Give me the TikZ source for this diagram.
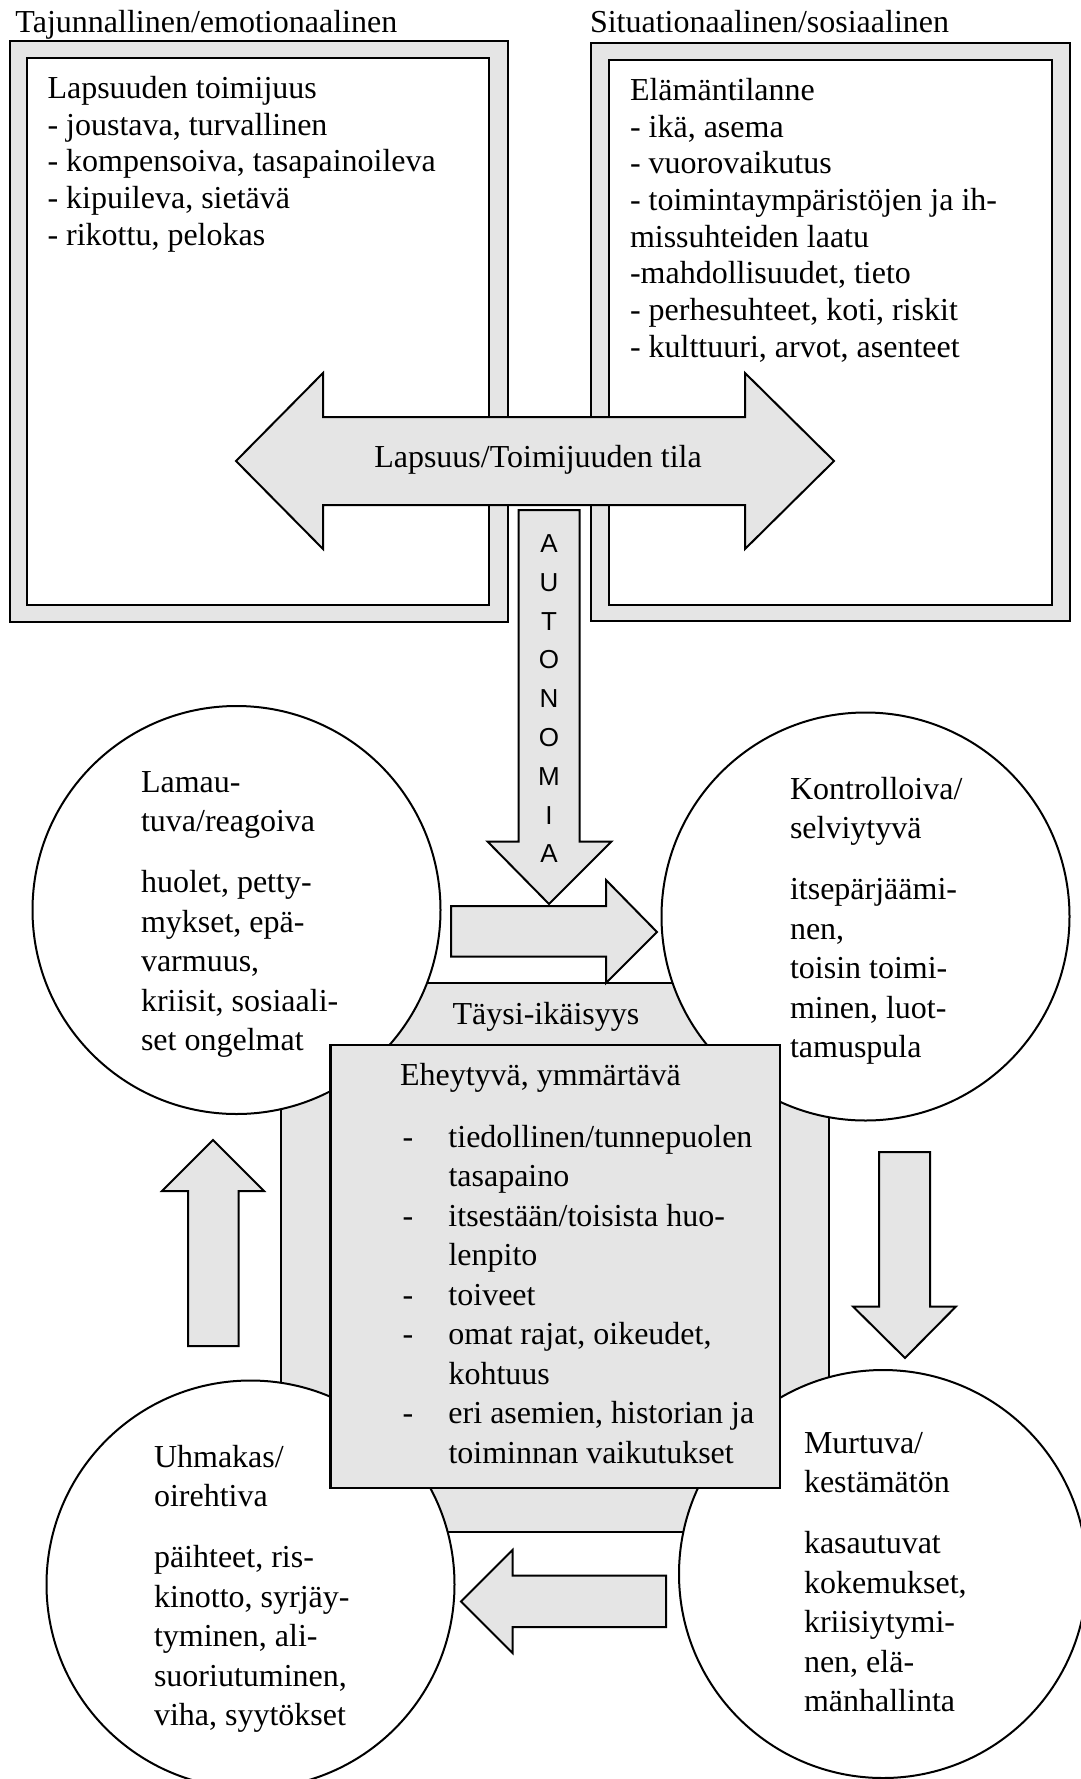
\documentclass[tikz,border=0pt]{standalone}
\usepackage{fontspec}
\setmainfont{Liberation Serif}
\newfontfamily\autofont{Liberation Sans}
\definecolor{fillg}{RGB}{229,229,229}
\begin{document}
\begin{tikzpicture}[x=1pt,y=-1pt,
  txt/.style={inner sep=0pt,outer sep=0pt,anchor=north west,font=\fontsize{32}{36.7}\selectfont},
  ctxt/.style={inner sep=0pt,outer sep=0pt,anchor=north west,font=\fontsize{32}{39.5}\selectfont},
  one/.style={inner sep=0pt,outer sep=0pt,font=\fontsize{32}{36.7}\selectfont},
  frame/.style={draw,fill=fillg,line width=2.2pt,inner sep=0pt,outer sep=0pt},
  pane/.style={draw,fill=white,line width=1.2pt,inner sep=0pt,outer sep=0pt},
  blob/.style={circle,draw,fill=white,line width=2pt,inner sep=0pt,outer sep=0pt,minimum size=408pt},
  blockarrow/.style={draw,fill=fillg,line width=2pt,line join=miter}]
\useasboundingbox (0,0) rectangle (1080,1779);
\fill[white] (0,0) rectangle (1080,1779);

% titles
\node[one,anchor=base west] (t1) at (15.5,32.6) {Tajunnallinen/emotionaalinen};
\node[one,anchor=base west] (t2) at (590,32.6) {Situationaalinen/sosiaalinen};

% top boxes
\node[frame,minimum width=498pt,minimum height=581pt] (lout) at (259,331.5) {};
\node[pane,minimum width=462pt,minimum height=547pt] (lin) at (258,331.5) {};
\node[frame,minimum width=479pt,minimum height=578pt] (rout) at (830.5,332) {};
\node[pane,minimum width=443pt,minimum height=545pt] (rin) at (830.5,332.5) {};

\node[txt] (ltext) at (47.5,72.8) {\begin{tabular}{@{}l@{}}Lapsuuden toimijuus\\- joustava, turvallinen\\- kompensoiva, tasapainoileva\\- kipuileva, sietävä\\- rikottu, pelokas\end{tabular}};
\node[txt] (rtext) at (630,74.8) {\begin{tabular}{@{}l@{}}Elämäntilanne\\- ikä, asema\\- vuorovaikutus\\- toimintaympäristöjen ja ih-\\missuhteiden laatu\\-mahdollisuudet, tieto\\- perhesuhteet, koti, riskit\\- kulttuuri, arvot, asenteet\end{tabular}};

% double arrow
\draw[blockarrow] (236,461) -- (323,373) -- (323,417) -- (745,417) -- (745,373) -- (834,461)
  -- (745,549) -- (745,505) -- (323,505) -- (323,549) -- cycle;
\node[one,anchor=base] (tila) at (538,467) {Lapsuus/Toimijuuden tila};

% autonomia arrow
\draw[blockarrow] (518.5,510) -- (579.5,510) -- (579.5,841.5) -- (611.5,841.5) -- (549,904)
  -- (487.5,841.5) -- (518.5,841.5) -- cycle;
\node[inner sep=0pt,outer sep=0pt,anchor=north,font=\autofont\fontsize{26}{38.8}\selectfont] (auto) at (549,525.3)
  {\begin{tabular}{@{}c@{}}A\\U\\T\\O\\N\\O\\M\\I\\A\end{tabular}};

% grey background block
\node[draw,fill=fillg,line width=2pt,inner sep=0pt,outer sep=0pt,minimum width=547.5pt,minimum height=549pt] (bg) at (554.75,1257.5) {};

% circles
\node[blob] (c1) at (236.5,910) {};
\node[blob] (c2) at (865.5,916.5) {};
\node[blob] (c3) at (250.5,1584.5) {};
\node[blob] (c4) at (883,1574) {};

\node[ctxt] (c1t) at (141,764.35) {\begin{tabular}{@{}l@{}}Lamau-\\tuva/reagoiva\\[21.5pt]huolet, petty-\\mykset, epä-\\varmuus,\\kriisit, sosiaali-\\set ongelmat\end{tabular}};
\node[ctxt] (c2t) at (790,771.35) {\begin{tabular}{@{}l@{}}Kontrolloiva/\\selviytyvä\\[21.5pt]itsepärjäämi-\\nen,\\toisin toimi-\\minen, luot-\\tamuspula\end{tabular}};
\node[ctxt] (c3t) at (154,1439.35) {\begin{tabular}{@{}l@{}}Uhmakas/\\oirehtiva\\[21.5pt]päihteet, ris-\\kinotto, syrjäy-\\tyminen, ali-\\suoriutuminen,\\viha, syytökset\end{tabular}};
\node[ctxt] (c4t) at (804,1425.35) {\begin{tabular}{@{}l@{}}Murtuva/\\kestämätön\\[21.5pt]kasautuvat\\kokemukset,\\kriisiytymi-\\nen, elä-\\mänhallinta\end{tabular}};

% central box
\node[draw,fill=fillg,line width=2.6pt,inner sep=0pt,outer sep=0pt,minimum width=449.5pt,minimum height=443pt] (mid) at (555.25,1266.5) {};
\node[ctxt] (midt) at (400,1057.35) {\begin{tabular}{@{}p{48.5pt}@{}l@{}}\multicolumn{2}{@{}l@{}}{Eheytyvä, ymmärtävä}\\[22.5pt]
\hspace*{2.5pt}- & tiedollinen/tunnepuolen\\
 & tasapaino\\
\hspace*{2.5pt}- & itsestään/toisista huo-\\
 & lenpito\\
\hspace*{2.5pt}- & toiveet\\
\hspace*{2.5pt}- & omat rajat, oikeudet,\\
 & kohtuus\\
\hspace*{2.5pt}- & eri asemien, historian ja\\
 & toiminnan vaikutukset
\end{tabular}};

\node[one,anchor=base] (taysi) at (546,1024) {Täysi-ikäisyys};

% cycle arrows
\draw[blockarrow] (451,906) -- (606,906) -- (606,880) -- (657,932) -- (606,983) -- (606,956.5) -- (451,956.5) -- cycle;
\draw[blockarrow] (879,1152) -- (930,1152) -- (930,1306.5) -- (956,1306.5) -- (905,1358) -- (853,1306.5) -- (879,1306.5) -- cycle;
\draw[blockarrow] (461,1601.5) -- (512.5,1550) -- (512.5,1575.5) -- (666,1575.5) -- (666,1627) -- (512.5,1627) -- (512.5,1653) -- cycle;
\draw[blockarrow] (213,1140) -- (264,1191) -- (238.5,1191) -- (238.5,1346) -- (188,1346) -- (188,1191) -- (162,1191) -- cycle;
\end{tikzpicture}
\end{document}
